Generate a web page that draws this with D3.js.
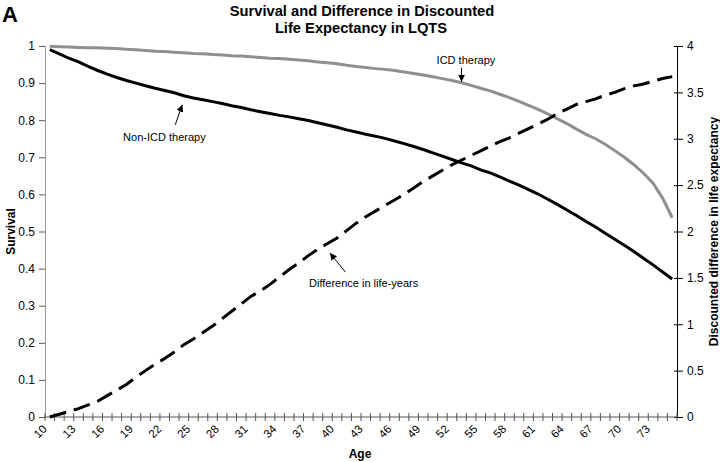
<!DOCTYPE html>
<html>
<head>
<meta charset="utf-8">
<script src="https://cdn.jsdelivr.net/npm/d3@7"></script>
<style>
  body { margin: 0; background: #fff; }
  text { font-family: "Liberation Sans", Arial, sans-serif; fill: #000; }
</style>
</head>
<body>
<div id="chart"></div>
<script>
// 年齡類別 10..75
const ages = [10,11,12,13,14,15,16,17,18,19,20,21,22,23,24,25,26,27,28,29,30,31,32,33,34,35,36,37,38,39,40,41,42,
  43,44,45,46,47,48,49,50,51,52,53,54,55,56,57,58,59,60,61,62,63,64,65,66,67,68,69,70,71,72,73,74,75];

// ICD therapy 存活率 (灰線)
const icdSurvival = [0.999,0.998,0.997,0.996,0.995,0.995,0.994,0.993,0.991,0.990,0.988,0.986,0.985,0.983,0.982,0.980,
  0.979,0.977,0.976,0.974,0.973,0.971,0.969,0.967,0.966,0.964,0.962,0.960,0.957,0.955,0.952,0.948,0.945,0.942,0.939,
  0.937,0.934,0.930,0.926,0.922,0.917,0.912,0.907,0.901,0.894,0.886,0.879,0.870,0.861,0.851,0.840,0.829,0.817,0.804,
  0.791,0.776,0.762,0.750,0.735,0.718,0.700,0.680,0.657,0.630,0.590,0.537];

// Non-ICD therapy 存活率 (黑線)
const nonIcdSurvival = [0.990,0.979,0.967,0.957,0.945,0.934,0.924,0.915,0.907,0.900,0.893,0.886,0.880,0.874,0.866,0.860,
  0.855,0.850,0.845,0.839,0.834,0.828,0.823,0.818,0.813,0.809,0.804,0.799,0.793,0.787,0.781,0.774,0.768,0.762,0.757,
  0.751,0.744,0.737,0.729,0.721,0.712,0.703,0.694,0.685,0.677,0.666,0.658,0.647,0.636,0.625,0.613,0.601,0.587,0.573,
  0.558,0.543,0.527,0.512,0.495,0.479,0.463,0.446,0.428,0.410,0.391,0.372];

// 折現後的壽命差 (虛線, 右軸)
const lifeYearDiff = [0.00,0.03,0.06,0.09,0.13,0.17,0.23,0.29,0.35,0.43,0.50,0.57,0.63,0.70,0.78,0.84,0.91,0.98,1.06,
  1.14,1.22,1.30,1.36,1.43,1.51,1.59,1.66,1.74,1.81,1.87,1.93,2.01,2.09,2.16,2.22,2.28,2.34,2.40,2.47,2.54,2.60,2.66,
  2.72,2.77,2.82,2.87,2.92,2.97,3.01,3.06,3.11,3.16,3.21,3.27,3.32,3.37,3.40,3.43,3.47,3.50,3.54,3.57,3.59,3.62,3.65,3.67];

const leftTicks = [0,0.1,0.2,0.3,0.4,0.5,0.6,0.7,0.8,0.9,1];
const rightTicks = [0,0.5,1,1.5,2,2.5,3,3.5,4];
const xLabelAges = ages.filter(a => (a - 10) % 3 === 0);

const W = 720, H = 462;
const pLeft = 45, pRight = 677, pTop = 46, pBottom = 417;

const svg = d3.select("#chart").append("svg")
  .attr("width", W).attr("height", H);

const x = d3.scaleBand().domain(ages).range([pLeft, pRight]);
const xc = a => x(a) + x.bandwidth() / 2;
const yL = d3.scaleLinear().domain([0, 1]).range([pBottom, pTop]);
const yR = d3.scaleLinear().domain([0, 4]).range([pBottom, pTop]);

// 標題
svg.append("text").attr("x", 2).attr("y", 22).style("font-size", "22px").style("font-weight", "bold").text("A");
svg.append("text").attr("x", 362).attr("y", 16).attr("text-anchor", "middle")
  .style("font-size", "14.7px").style("font-weight", "bold").text("Survival and Difference in Discounted");
svg.append("text").attr("x", 361).attr("y", 33).attr("text-anchor", "middle")
  .style("font-size", "14.7px").style("font-weight", "bold").text("Life Expectancy in LQTS");

// 左軸
const gL = svg.append("g").attr("transform", `translate(${pLeft},0)`)
  .call(d3.axisLeft(yL).tickValues(leftTicks).tickSize(6).tickPadding(4).tickFormat(d => d));
gL.select(".domain").attr("stroke", "#999");
gL.selectAll(".tick line").attr("stroke", "#555");
gL.selectAll(".tick text").style("font-size", "12px").style("font-family", "Liberation Sans, Arial, sans-serif");

// 右軸
const gR = svg.append("g").attr("transform", `translate(${pRight},0)`)
  .call(d3.axisRight(yR).tickValues(rightTicks).tickSize(6).tickPadding(4).tickFormat(d => d));
gR.select(".domain").attr("stroke", "#000");
gR.selectAll(".tick line").attr("x1", -3).attr("stroke", "#000");
gR.selectAll(".tick text").style("font-size", "12px").style("font-family", "Liberation Sans, Arial, sans-serif");

// X 軸 (類別邊界的刻度)
const gX = svg.append("g");
gX.append("line").attr("x1", pLeft).attr("x2", pRight).attr("y1", pBottom).attr("y2", pBottom).attr("stroke", "#555");
gX.selectAll(".xt").data(ages.concat([null])).enter().append("line")
  .attr("x1", (d, i) => pLeft + i * x.step()).attr("x2", (d, i) => pLeft + i * x.step())
  .attr("y1", pBottom - 4).attr("y2", pBottom + 4).attr("stroke", "#555");
gX.selectAll(".xl").data(xLabelAges).enter().append("text")
  .attr("transform", d => `translate(${xc(d) - 8},${pBottom + 7}) rotate(-45)`)
  .attr("text-anchor", "end").attr("dy", "0.7em")
  .style("font-size", "11.5px").text(d => d);

// 軸標題
svg.append("text").attr("x", 360).attr("y", 458).attr("text-anchor", "middle")
  .style("font-size", "12px").style("font-weight", "bold").text("Age");
svg.append("text").attr("transform", `translate(15,${(pTop + pBottom) / 2}) rotate(-90)`).attr("text-anchor", "middle")
  .style("font-size", "12px").style("font-weight", "bold").text("Survival");
svg.append("text").attr("transform", `translate(718,${(pTop + pBottom) / 2}) rotate(-90)`).attr("text-anchor", "middle")
  .style("font-size", "12px").style("font-weight", "bold").text("Discounted difference in life expectancy");

// 線條
const lineL = d3.line().x((d, i) => xc(ages[i])).y(d => yL(d));
const lineR = d3.line().x((d, i) => xc(ages[i])).y(d => yR(d));

svg.append("path").datum(icdSurvival).attr("d", lineL)
  .attr("fill", "none").attr("stroke", "#8f8f8f").attr("stroke-width", 3);
svg.append("path").datum(nonIcdSurvival).attr("d", lineL)
  .attr("fill", "none").attr("stroke", "#000").attr("stroke-width", 3);
svg.append("path").datum(lifeYearDiff).attr("d", lineR)
  .attr("fill", "none").attr("stroke", "#000").attr("stroke-width", 3)
  .attr("stroke-dasharray", "17,8");

// 註解與箭頭
svg.append("defs").append("marker").attr("id", "arr")
  .attr("viewBox", "0 0 10 10").attr("refX", 10).attr("refY", 5)
  .attr("markerWidth", 7).attr("markerHeight", 7).attr("orient", "auto-start-reverse")
  .attr("markerUnits", "userSpaceOnUse")
  .append("path").attr("d", "M0,0 L10,5 L0,10 z").attr("fill", "#000");

function note(label, tx, ty, lx, ly, ax, ay) {
  svg.append("line").attr("x1", ax).attr("y1", ay).attr("x2", tx).attr("y2", ty)
    .attr("stroke", "#000").attr("stroke-width", 1).attr("marker-end", "url(#arr)");
  svg.append("text").attr("x", lx).attr("y", ly).attr("text-anchor", "middle")
    .style("font-size", "11px").text(label);
}
// Non-ICD: 箭頭指向 24 歲附近
const nY = yL(nonIcdSurvival[13]);
note("Non-ICD therapy", xc(23) + 8, nY + 12, xc(18) + 38, nY + 48, xc(23) + 1, nY + 32);
// ICD therapy
const iY = yL(icdSurvival[43]);
note("ICD therapy", xc(53), iY - 1, xc(52) + 14, iY - 19, xc(53), iY - 15);
// 壽命差
const dY = yR(lifeYearDiff[28]);
note("Difference in life-years", xc(38) + 12, dY + 4, xc(41) + 17, dY + 38, xc(39) + 18, dY + 23);
</script>
</body>
</html>
